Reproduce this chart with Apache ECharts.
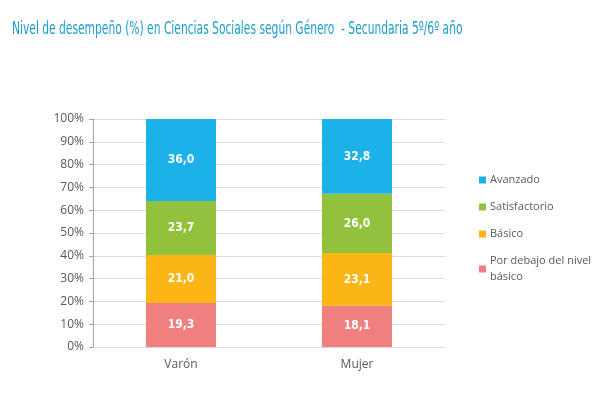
<!DOCTYPE html>
<html lang="es">
<head>
  <meta charset="UTF-8">
  <script src="https://cdn.jsdelivr.net/npm/echarts@6/dist/echarts.min.js"></script>
  <title>Nivel de desempeño</title>
</head>
<body style="margin:0;background:#fff">
  <div id="chart" style="width:600px;height:396px"></div>
  <script>
    const categories = ['Varón', 'Mujer']
    const porDebajo = [19.3, 18.1]
    const basico = [21.0, 23.1]
    const satisfactorio = [23.7, 26.0]
    const avanzado = [36.0, 32.8]
    const yTicks = [0, 10, 20, 30, 40, 50, 60, 70, 80, 90, 100]

    const chart = echarts.init(document.getElementById('chart'))
    const fmt = (p) => p.value.toFixed(1).replace('.', ',')
    const seg = (name, data, color) => ({
      name: name,
      type: 'bar',
      stack: 'total',
      barWidth: 70,
      data: data,
      itemStyle: { color: color },
      label: {
        show: true,
        color: '#fff',
        fontFamily: 'DejaVu Sans Condensed',
        fontWeight: 'bold',
        fontSize: 12,
        formatter: fmt
      }
    })

    chart.setOption({
      animation: false,
      // title drawn as a horizontally squeezed text, the original uses a condensed face
      graphic: [{
        type: 'text',
        x: 12,
        y: 21,
        scaleX: 0.70,
        style: {
          text: 'Nivel de desempeño (%) en Ciencias Sociales según Género  - Secundaria 5º/6º año',
          fill: '#1a9fcb',
          font: '17px "DejaVu Sans Condensed"'
        }
      }],
      legend: {
        orient: 'vertical',
        left: 474,
        top: 167,
        itemWidth: 7,
        itemHeight: 7,
        itemGap: 11,
        icon: 'rect',
        data: ['Avanzado', 'Satisfactorio', 'Básico', 'Por debajo del nivel básico'],
        formatter: (n) => n === 'Por debajo del nivel básico' ? 'Por debajo del nivel\nbásico' : n,
        textStyle: { color: '#595959', fontFamily: 'Open Sans', fontSize: 11, lineHeight: 16, padding: [0, 0, 0, -1] }
      },
      grid: { left: 93, right: 155, top: 119, bottom: 49 },
      xAxis: {
        type: 'category',
        data: categories,
        axisLine: { show: false },
        axisTick: { show: false },
        axisLabel: { color: '#595959', fontFamily: 'Open Sans', fontSize: 12, margin: 12 }
      },
      yAxis: {
        type: 'value',
        min: 0,
        max: 100,
        interval: 10,
        axisLine: { show: true, lineStyle: { color: '#a6a6a6' } },
        axisTick: { show: true, length: 4, lineStyle: { color: '#a6a6a6' } },
        splitLine: { lineStyle: { color: '#dcdcdc' } },
        axisLabel: {
          color: '#595959',
          fontFamily: 'Open Sans',
          fontSize: 12,
          margin: 9,
          formatter: (v) => yTicks.includes(v) ? v + '%' : ''
        }
      },
      series: [
        seg('Por debajo del nivel básico', porDebajo, '#f08080'),
        seg('Básico', basico, '#fbb516'),
        seg('Satisfactorio', satisfactorio, '#92c13e'),
        seg('Avanzado', avanzado, '#1cb1e9')
      ]
    })
  </script>
</body>
</html>
